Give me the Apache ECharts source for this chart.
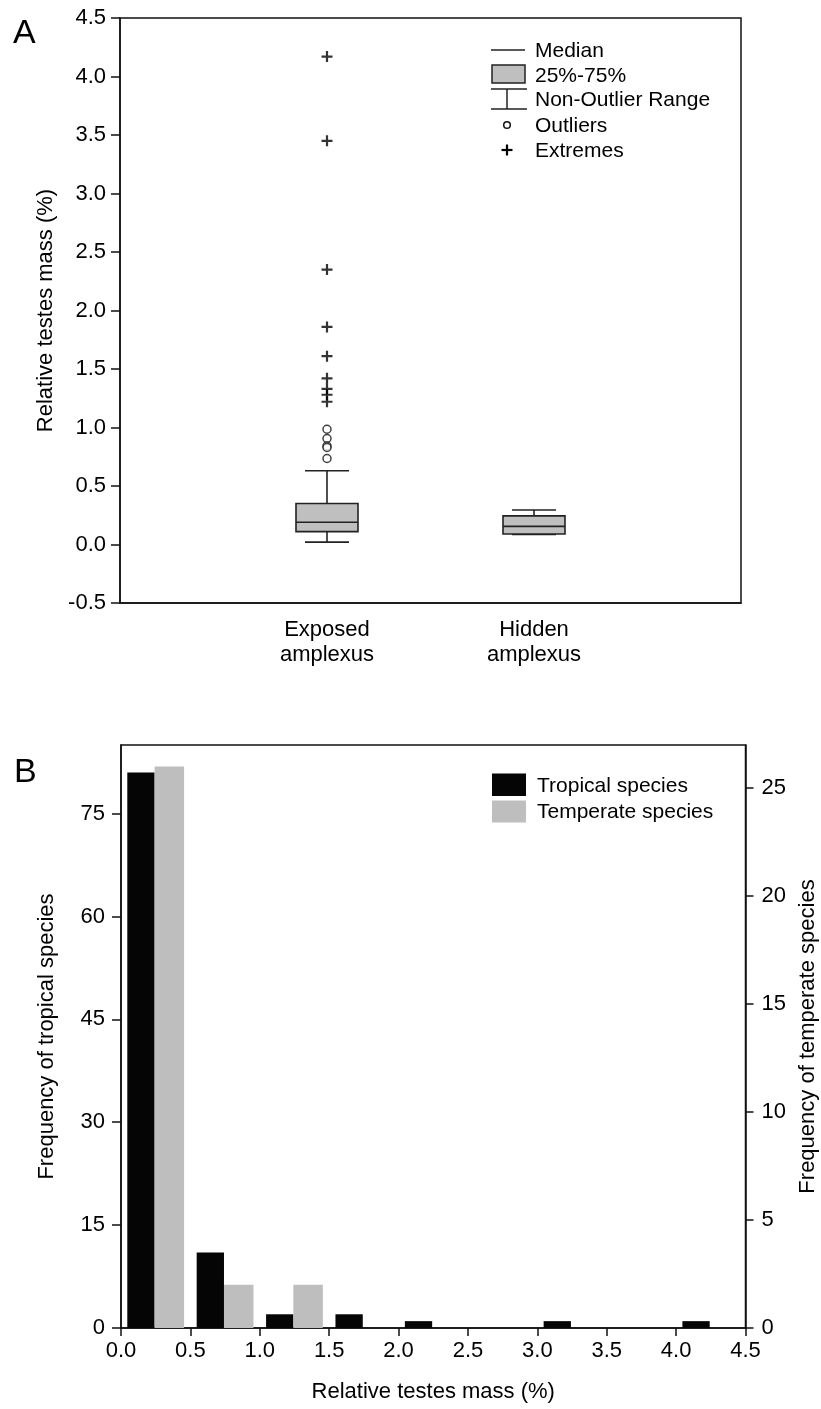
<!DOCTYPE html>
<html><head><meta charset="utf-8">
<script src="https://cdn.jsdelivr.net/npm/echarts@6/dist/echarts.min.js"></script>
<style>html,body{margin:0;padding:0;background:#fff}#c{width:821px;height:1409px}</style>
</head><body><div id="c"></div>
<script>
// ---- Panel A data ----
const groupCategories = ['', 'Exposed\namplexus', 'Hidden\namplexus', ''];
const boxGroupIndex = [1, 2];
const boxMin = [0.02, 0.085];
const boxQ1 = [0.11, 0.09];
const boxMedian = [0.19, 0.155];
const boxQ3 = [0.35, 0.245];
const boxMax = [0.63, 0.295];
const outlierGroup = 1;
const outlierValues = [0.985, 0.906, 0.842, 0.829, 0.735];
const extremeValues = [4.17, 3.45, 2.35, 1.86, 1.61, 1.42, 1.33, 1.28, 1.22];
const legendALabels = ['Median', '25%-75%', 'Non-Outlier Range', 'Outliers', 'Extremes'];

// ---- Panel B data ----
const binCenters = [0.25, 0.75, 1.25, 1.75, 2.25, 2.75, 3.25, 3.75, 4.25];
const tropicalCounts = [81, 11, 2, 2, 1, 0, 1, 0, 1];
const temperateCounts = [26, 2, 2, 0, 0, 0, 0, 0, 0];
const tropicalTicks = [0, 15, 30, 45, 60, 75];
const temperateTicks = [0, 5, 10, 15, 20, 25];
const legendBLabels = ['Tropical species', 'Temperate species'];

const FONT = "'Liberation Sans', Arial, Helvetica, sans-serif";
const BLACK = '#000';
const axisLine = {show: true, onZero: false, lineStyle: {color: '#111', width: 1.5}};
const axisTick = {show: true, length: 9, lineStyle: {color: '#111', width: 1.5}};
const labelStyle = {color: BLACK, fontSize: 22, fontFamily: FONT};
const nameStyle = {color: BLACK, fontSize: 22, fontFamily: FONT};

const chart = echarts.init(document.getElementById('c'), null, {renderer: 'canvas'});

const boxData = boxGroupIndex.map((g, i) => [g, boxMin[i], boxQ1[i], boxMedian[i], boxQ3[i], boxMax[i]]);

const boxStroke = {stroke: '#222', lineWidth: 1.6};

function renderBox(params, api) {
  const xi = api.value(0);
  const pMin = api.coord([xi, api.value(1)]);
  const pQ1 = api.coord([xi, api.value(2)]);
  const pMed = api.coord([xi, api.value(3)]);
  const pQ3 = api.coord([xi, api.value(4)]);
  const pMax = api.coord([xi, api.value(5)]);
  const cx = pMed[0];
  const bw = 62, cw = 44;
  return {
    type: 'group',
    children: [
      {type: 'line', shape: {x1: cx, y1: pMax[1], x2: cx, y2: pQ3[1]}, style: boxStroke},
      {type: 'line', shape: {x1: cx, y1: pQ1[1], x2: cx, y2: pMin[1]}, style: boxStroke},
      {type: 'line', shape: {x1: cx - cw / 2, y1: pMax[1], x2: cx + cw / 2, y2: pMax[1]}, style: boxStroke},
      {type: 'line', shape: {x1: cx - cw / 2, y1: pMin[1], x2: cx + cw / 2, y2: pMin[1]}, style: boxStroke},
      {type: 'rect', shape: {x: cx - bw / 2, y: pQ3[1], width: bw, height: pQ1[1] - pQ3[1]},
        style: {fill: '#bfbfbf', stroke: '#222', lineWidth: 1.6}},
      {type: 'line', shape: {x1: cx - bw / 2, y1: pMed[1], x2: cx + bw / 2, y2: pMed[1]}, style: boxStroke}
    ]
  };
}

const plusPath = 'path://M4,0H6V4H10V6H6V10H4V6H0V4H4Z';

function txt(x, y, text, size, extra) {
  return Object.assign({type: 'text', x: x, y: y,
    style: {text: text, fill: BLACK, font: size + 'px ' + FONT, textVerticalAlign: 'middle'}}, extra || {});
}

const legendAY = [50, 75, 99, 125, 150];
const legendBY = [785, 811.5];

const graphics = [
  txt(13, 34, 'A', 34),
  txt(14, 773, 'B', 34),
  // legend A symbols
  {type: 'line', shape: {x1: 491, y1: legendAY[0], x2: 525, y2: legendAY[0]}, style: {stroke: '#222', lineWidth: 1.5}},
  {type: 'rect', shape: {x: 492, y: 65, width: 33, height: 18}, style: {fill: '#bfbfbf', stroke: '#222', lineWidth: 1.5}},
  {type: 'line', shape: {x1: 491, y1: 89, x2: 527, y2: 89}, style: {stroke: '#222', lineWidth: 1.5}},
  {type: 'line', shape: {x1: 491, y1: 109, x2: 527, y2: 109}, style: {stroke: '#222', lineWidth: 1.5}},
  {type: 'line', shape: {x1: 507, y1: 89, x2: 507, y2: 109}, style: {stroke: '#222', lineWidth: 1.5}},
  {type: 'circle', shape: {cx: 507, cy: legendAY[3], r: 3.3}, style: {fill: '#fff', stroke: '#111', lineWidth: 1.5}},
  {type: 'line', shape: {x1: 501.5, y1: legendAY[4], x2: 512.5, y2: legendAY[4]}, style: {stroke: '#000', lineWidth: 2.2}},
  {type: 'line', shape: {x1: 507, y1: legendAY[4] - 5.5, x2: 507, y2: legendAY[4] + 5.5}, style: {stroke: '#000', lineWidth: 2.2}},
  // legend B symbols
  {type: 'rect', shape: {x: 492, y: 773.5, width: 34, height: 22.5}, style: {fill: '#050505'}},
  {type: 'rect', shape: {x: 492, y: 800.5, width: 34, height: 22}, style: {fill: '#bebebe'}}
];
legendALabels.forEach((t, i) => graphics.push(txt(535, legendAY[i] + 1, t, 21)));
legendBLabels.forEach((t, i) => graphics.push(txt(537, legendBY[i] + 1, t, 21)));

const option = {
  animation: false,
  backgroundColor: '#fff',
  textStyle: {fontFamily: FONT},
  grid: [
    {left: 120, top: 18, width: 621, height: 585, show: true, borderColor: '#111', borderWidth: 1.5,
      backgroundColor: 'transparent', containLabel: false, outerBoundsMode: 'none'},
    {left: 121, top: 745, width: 624.5, height: 583, show: true, borderColor: '#111', borderWidth: 1.5,
      backgroundColor: 'transparent', containLabel: false, outerBoundsMode: 'none'}
  ],
  xAxis: [
    {type: 'category', gridIndex: 0, data: groupCategories, boundaryGap: false,
      axisLine: axisLine, axisTick: {show: false}, splitLine: {show: false},
      axisLabel: {interval: 0, margin: 14, lineHeight: 25, fontSize: 22, color: BLACK, fontFamily: FONT}},
    {type: 'value', gridIndex: 1, min: 0, max: 4.5, interval: 0.5,
      axisLine: axisLine, axisTick: Object.assign({}, axisTick, {length: 8}), splitLine: {show: false},
      axisLabel: Object.assign({}, labelStyle, {margin: 12, formatter: v => v.toFixed(1)}),
      name: 'Relative testes mass (%)', nameLocation: 'middle', nameGap: 53, nameTextStyle: nameStyle}
  ],
  yAxis: [
    {type: 'value', gridIndex: 0, min: -0.5, max: 4.5, interval: 0.5,
      axisLine: axisLine, axisTick: axisTick, splitLine: {show: false},
      axisLabel: Object.assign({}, labelStyle, {margin: 14, formatter: v => v.toFixed(1)}),
      name: 'Relative testes mass (%)', nameLocation: 'middle', nameGap: 63, nameRotate: 90, nameTextStyle: nameStyle},
    {type: 'value', gridIndex: 1, position: 'left', min: 0, max: 85,
      axisLine: axisLine, axisTick: Object.assign({}, axisTick, {customValues: tropicalTicks}), splitLine: {show: false},
      axisLabel: Object.assign({}, labelStyle, {margin: 16, customValues: tropicalTicks}),
      name: 'Frequency of tropical species', nameLocation: 'middle', nameGap: 63, nameRotate: 90, nameTextStyle: nameStyle},
    {type: 'value', gridIndex: 1, position: 'right', min: 0, max: 27,
      axisLine: axisLine, axisTick: Object.assign({}, axisTick, {length: 8, customValues: temperateTicks}), splitLine: {show: false},
      axisLabel: Object.assign({}, labelStyle, {margin: 16, customValues: temperateTicks}),
      name: 'Frequency of temperate species', nameLocation: 'middle', nameGap: 40, nameRotate: 90, nameTextStyle: nameStyle}
  ],
  series: [
    {type: 'custom', xAxisIndex: 0, yAxisIndex: 0, data: boxData, renderItem: renderBox,
      encode: {x: 0, y: [1, 2, 3, 4, 5]}, z: 3},
    {type: 'scatter', xAxisIndex: 0, yAxisIndex: 0, data: outlierValues.map(v => [outlierGroup, v]),
      symbol: 'circle', symbolSize: 8, itemStyle: {color: '#fff', borderColor: '#111', borderWidth: 1.5}, z: 4},
    {type: 'scatter', xAxisIndex: 0, yAxisIndex: 0, data: extremeValues.map(v => [outlierGroup, v]),
      symbol: plusPath, symbolSize: 11, itemStyle: {color: '#000'}, z: 4},
    {type: 'bar', name: 'Tropical species', xAxisIndex: 1, yAxisIndex: 1,
      data: binCenters.map((x, i) => [x, tropicalCounts[i]]), barWidth: 27.3, barGap: '0%',
      itemStyle: {color: '#050505'}},
    {type: 'bar', name: 'Temperate species', xAxisIndex: 1, yAxisIndex: 2,
      data: binCenters.map((x, i) => [x, temperateCounts[i]]), barWidth: 29.5, barGap: '0%',
      itemStyle: {color: '#bebebe'}}
  ],
  graphic: graphics
};
chart.setOption(option);
</script></body></html>
